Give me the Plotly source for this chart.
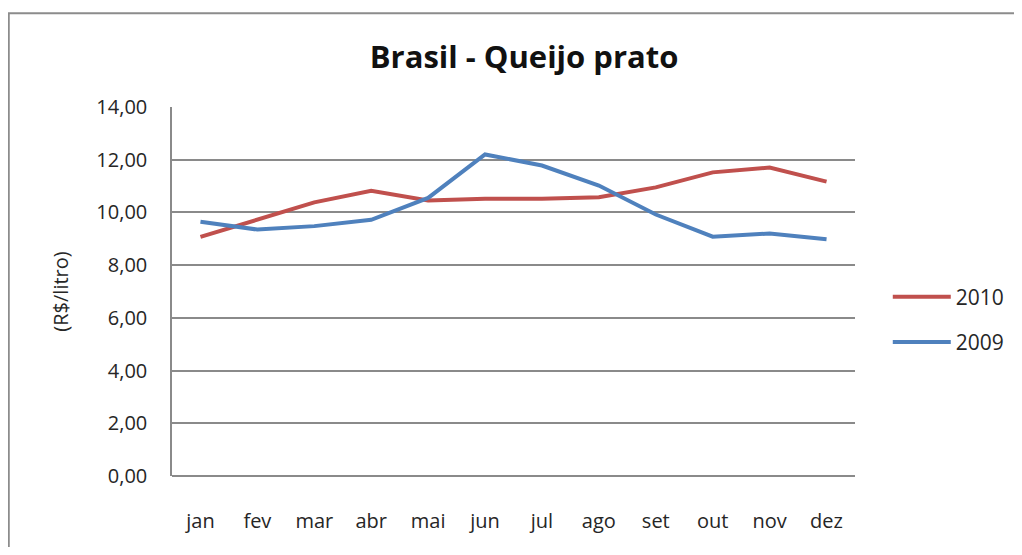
import plotly.graph_objects as go

# Dati (R$/litro)
meses = ['jan', 'fev', 'mar', 'abr', 'mai', 'jun', 'jul', 'ago', 'set', 'out', 'nov', 'dez']
preco_2010 = [9.07, 9.72, 10.38, 10.82, 10.45, 10.52, 10.52, 10.58, 10.95, 11.52, 11.70, 11.17]
preco_2009 = [9.65, 9.35, 9.48, 9.72, 10.55, 12.20, 11.78, 11.02, 9.92, 9.08, 9.20, 8.98]
yticks = [0, 2, 4, 6, 8, 10, 12, 14]
ytick_labels = ['0,00', '2,00', '4,00', '6,00', '8,00', '10,00', '12,00', '14,00']

fonte = 'Open Sans, Lato, sans-serif'
grigio = '#8a8a8a'

fig = go.Figure()

fig.add_trace(go.Scatter(x=meses, y=preco_2010, mode='lines', name='2010',
                         line=dict(color='#C0504D', width=4), legendgroup='a'))
fig.add_trace(go.Scatter(x=meses, y=preco_2009, mode='lines', name='2009',
                         line=dict(color='#4F81BD', width=4), legendgroup='b'))

# cornice esterna del grafico
fig.add_shape(type='rect', xref='paper', yref='paper',
              x0=-0.239, x1=1.6, y0=-0.5, y1=1.254,
              line=dict(color='#8c8c8c', width=2), layer='below')

fig.update_layout(
    width=1006, height=539,
    margin=dict(l=164, r=159, t=99, b=71, autoexpand=False),
    paper_bgcolor='white', plot_bgcolor='white',
    font=dict(family=fonte, size=20, color='#262626'),
    title=dict(text='<b>Brasil - Queijo prato</b>', x=0.513, xanchor='center',
               y=0.909, yanchor='middle', font=dict(size=31, color='#111111')),
    showlegend=True,
    legend=dict(x=1.048, y=0.424, xanchor='left', yanchor='middle',
                tracegroupgap=15, font=dict(size=21), itemwidth=58),
    xaxis=dict(range=[-0.5, 11.5], showgrid=False, showline=False, ticks='',
               automargin=False, ticklabelstandoff=31, tickfont=dict(size=20)),
    yaxis=dict(range=[0, 14], tickvals=yticks, ticktext=ytick_labels,
               showgrid=True, gridcolor=grigio, gridwidth=1.5,
               showline=True, linecolor=grigio, linewidth=1.5,
               zeroline=True, zerolinecolor=grigio, zerolinewidth=1.5,
               ticks='', ticklabelstandoff=19, tickfont=dict(size=20),
               automargin=False,
               title=dict(text='(R$/litro)', standoff=22, font=dict(size=20))),
)

fig.write_html("out.html")
